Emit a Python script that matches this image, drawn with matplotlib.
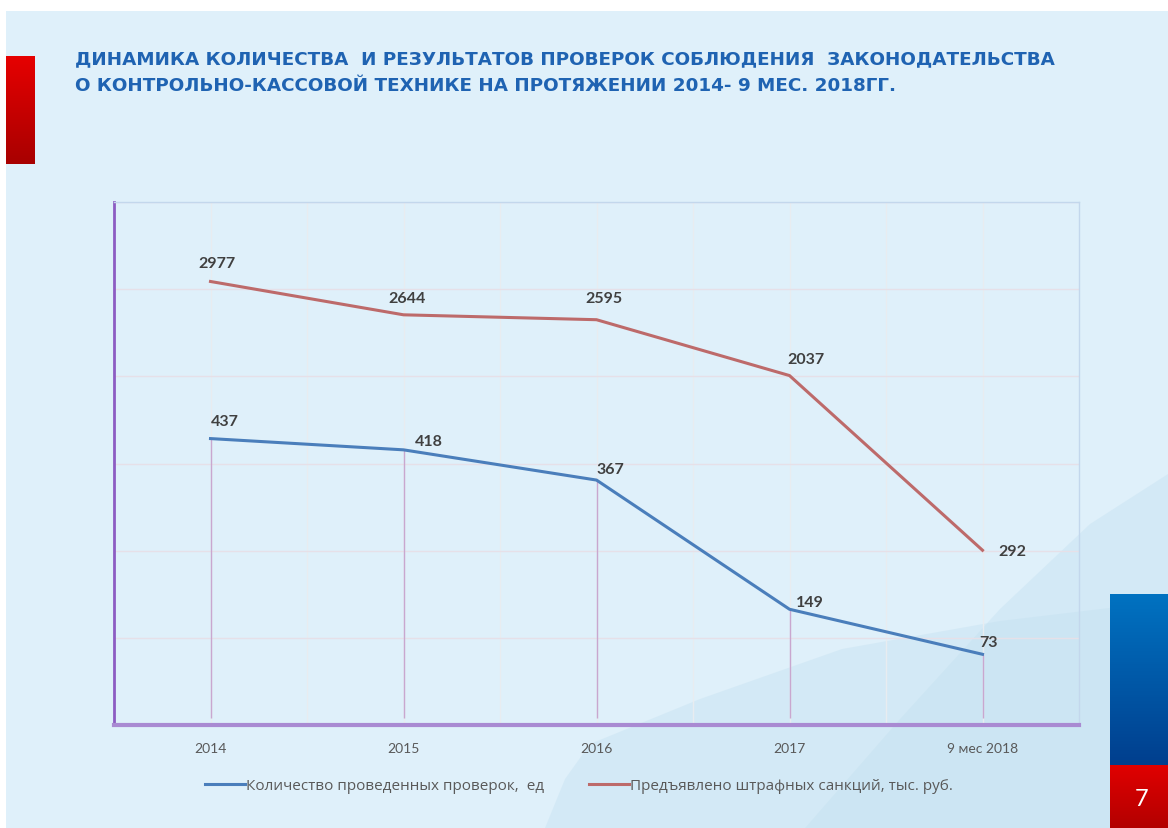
import matplotlib
matplotlib.use("Agg")
import matplotlib.pyplot as plt
import numpy as np
from matplotlib.patches import Polygon, Rectangle
from matplotlib.colors import LinearSegmentedColormap

# data
categories = ["2014", "2015", "2016", "2017", "9 мес 2018"]
checks = [437, 418, 367, 149, 73]          # Количество проведенных проверок, ед
fines = [2977, 2644, 2595, 2037, 292]      # Предъявлено штрафных санкций, тыс. руб.
series_names = ["Количество проведенных проверок,  ед",
                "Предъявлено штрафных санкций, тыс. руб."]
title = ("ДИНАМИКА КОЛИЧЕСТВА  И РЕЗУЛЬТАТОВ ПРОВЕРОК СОБЛЮДЕНИЯ  ЗАКОНОДАТЕЛЬСТВА\n"
         "О КОНТРОЛЬНО-КАССОВОЙ ТЕХНИКЕ НА ПРОТЯЖЕНИИ 2014- 9 МЕС. 2018ГГ.")
slide_no = "7"

# label offsets (pixels)
fine_off = [(6, 18), (4, 17), (7, 22), (16, 17), (30, -1)]
check_off = [(14, 18), (25, 9), (14, 11), (20, 7), (6, 12)]

W, H = 1168, 829
fig = plt.figure(figsize=(W / 100, H / 100), dpi=100)
fig.patch.set_facecolor("white")


def fx(x):
    return x / W


def fy(y):
    return 1 - y / H


# slide background
fig.add_artist(Rectangle((fx(6), 0), fx(1162), fy(12), transform=fig.transFigure,
                         facecolor="#dff0fa", edgecolor="none", zorder=-3))
# soft waves in the lower right corner
wave_a = [(805, 829), (900, 720), (1000, 610), (1090, 525), (1168, 475), (1168, 829)]
wave_b = [(545, 829), (565, 780), (590, 745), (700, 700), (842, 650), (1000, 622),
          (1168, 602), (1168, 829)]
for pts in [wave_a, wave_b]:
    fig.add_artist(Polygon([(fx(x), fy(y)) for x, y in pts], closed=True,
                           transform=fig.transFigure, facecolor="#c3e0f0",
                           edgecolor="none", alpha=0.4, zorder=-2))

# left red bar
grad = np.linspace(0, 1, 100).reshape(-1, 1)
bar = fig.add_axes([fx(6), fy(165), fx(29), fy(57) - fy(165)])
bar.imshow(grad, aspect="auto", cmap=LinearSegmentedColormap.from_list("r", ["#e60000", "#a80000"]))
bar.axis("off")

# right blue / red bars
bb = fig.add_axes([fx(1110), fy(766), fx(58), fy(595) - fy(766)])
bb.imshow(grad, aspect="auto", cmap=LinearSegmentedColormap.from_list("b", ["#0072c1", "#003f8e"]))
bb.axis("off")
rb = fig.add_axes([fx(1110), 0, fx(58), fy(766)])
rb.imshow(grad, aspect="auto", cmap=LinearSegmentedColormap.from_list("r2", ["#e00000", "#b30000"]))
rb.axis("off")
fig.text(fx(1142), fy(800), slide_no, color="white", fontsize=17,
         family="Lato", ha="center", va="center")

# title
fig.text(fx(75), fy(50), title, color="#1f63b2", fontsize=13.2, fontweight="bold",
         family="DejaVu Sans", ha="left", va="top", linespacing=1.62)

# chart
ax = fig.add_axes([fx(114), fy(726), fx(1079) - fx(114), fy(203) - fy(726)])
ax.set_facecolor("none")
x = np.arange(len(categories))
ax.set_xlim(-0.5, len(categories) - 0.5)
ax.set_ylim(-1454, 3771)
ax.set_yticks(np.linspace(-1454, 3771, 7))
ax.set_yticklabels([])
ax.set_xticks(x)
ax.set_xticks(x[:-1] + 0.5, minor=True)
ax.set_xticklabels(categories, fontsize=10, color="#595959", family="Lato")
ax.tick_params(length=0, pad=12, which="both")
ax.grid(axis="y", color="#e6e0e8", lw=1)
ax.grid(axis="x", which="both", color="#e8ecf0", lw=1)
ax.set_axisbelow(True)
for s in ["top", "right"]:
    ax.spines[s].set_color("#c3d7ec")
    ax.spines[s].set_linewidth(1)
ax.spines["left"].set_color("#8d5cc2")
ax.spines["left"].set_linewidth(2)
ax.spines["bottom"].set_color("#a98ad2")
ax.spines["bottom"].set_linewidth(3)

ax2 = ax.twinx()
ax2.set_ylim(-46.3, 836.2)
ax2.set_yticks([])
for s in ax2.spines.values():
    s.set_visible(False)

# drop lines from the checks series
ax2.vlines(x, -34, checks, color="#c9a7cf", lw=1, zorder=1)

l1, = ax2.plot(x, checks, color="#4a7ebb", lw=2.2, zorder=3)
l2, = ax.plot(x, fines, color="#bd6a6a", lw=2.2, zorder=3)

for xi, v, (dx, dy) in zip(x, fines, fine_off):
    ax.annotate(str(v), (xi, v), xytext=(dx, dy), textcoords="offset pixels",
                ha="center", va="center", fontsize=11.5, fontweight="bold",
                color="#404040", family="Lato")
for xi, v, (dx, dy) in zip(x, checks, check_off):
    ax2.annotate(str(v), (xi, v), xytext=(dx, dy), textcoords="offset pixels",
                 ha="center", va="center", fontsize=11.5, fontweight="bold",
                 color="#404040", family="Lato")

fig.legend([l1, l2], series_names, loc="center", bbox_to_anchor=(fx(579), fy(787)),
           ncol=2, frameon=False, handlelength=2.6, handletextpad=0.1,
           columnspacing=2.9, prop={"family": "Open Sans", "size": 11},
           labelcolor="#595959")

fig.savefig("out.png", dpi=100, facecolor=fig.get_facecolor())
